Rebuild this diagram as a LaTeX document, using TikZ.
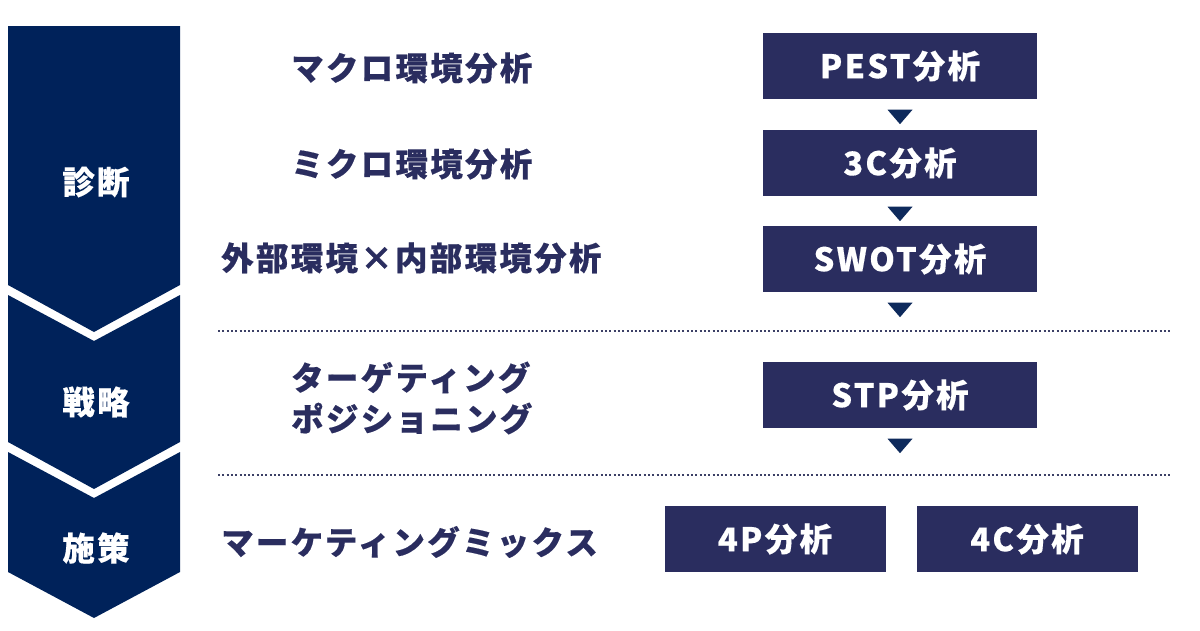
\documentclass[tikz,border=0pt]{standalone}
\usepackage{fontspec}
\setmainfont{Noto Sans CJK JP}[LetterSpace=7, BoldFeatures={FakeBold=0.35}]
\usetikzlibrary{calc}
\definecolor{navybox}{HTML}{2A2D5F}
\definecolor{navychev}{HTML}{00225A}
\definecolor{navytri}{HTML}{0E2A5C}
\definecolor{dotcol}{HTML}{3C4066}
\newcommand\downtri[1]{\fill[navytri] ($(#1.south)+(-12.5,10.5)$) -- ++(25,0) -- ++(-12.5,14.5) -- cycle;}
\begin{document}
\begin{tikzpicture}[x=1pt,y=-1pt,
  txt/.style={font=\fontsize{32.5}{41}\selectfont\bfseries, inner sep=0pt},
  lbl/.style={txt, text=navybox, anchor=west, align=left},
  chevlbl/.style={txt, text=white},
  stepbox/.style={txt, fill=navybox, text=white, minimum width=274pt, minimum height=66pt},
  mixbox/.style={stepbox, minimum width=221pt},
  sep/.style={dotcol, line width=2pt, dash pattern=on 2pt off 2.3pt}]
\useasboundingbox (0,0) rectangle (1200,630);
% chevrons
\fill[navychev] (8,26) -- (180,26) -- (180,285) -- (94,332) -- (8,285) -- cycle;
\fill[navychev] (8,295) -- (94,341) -- (180,295) -- (180,442) -- (94,489) -- (8,442) -- cycle;
\fill[navychev] (8,452) -- (94,498) -- (180,452) -- (180,572) -- (94,618) -- (8,572) -- cycle;
\node[chevlbl] (shindan) at (96,182) {診断};
\node[chevlbl] (senryaku) at (96,402) {戦略};
\node[chevlbl] (shisaku) at (96,548) {施策};
% labels
\node[lbl] (macro) at (291,68) {マクロ環境分析};
\node[lbl] (micro) at (291,164) {ミクロ環境分析};
\node[lbl] (gaibu) at (221,258) {外部環境×内部環境分析};
\node[lbl] (tp) at (291,398) {ターゲティング\\ポジショニング};
\node[lbl] (mix) at (221,542) {マーケティングミックス};
% boxes
\node[stepbox] (pest) at (900,66) {PEST分析};
\node[stepbox] (c3) at (900,163) {3C分析};
\node[stepbox] (swot) at (900,259) {SWOT分析};
\node[stepbox] (stp) at (900,395) {STP分析};
\node[mixbox] (p4) at (775,539) {4P分析};
\node[mixbox] (c4) at (1027,539) {4C分析};
\downtri{pest}
\downtri{c3}
\downtri{swot}
\downtri{stp}
% separators
\draw[sep] (218,331) -- (1172,331);
\draw[sep] (218,475) -- (1172,475);
\end{tikzpicture}
\end{document}
